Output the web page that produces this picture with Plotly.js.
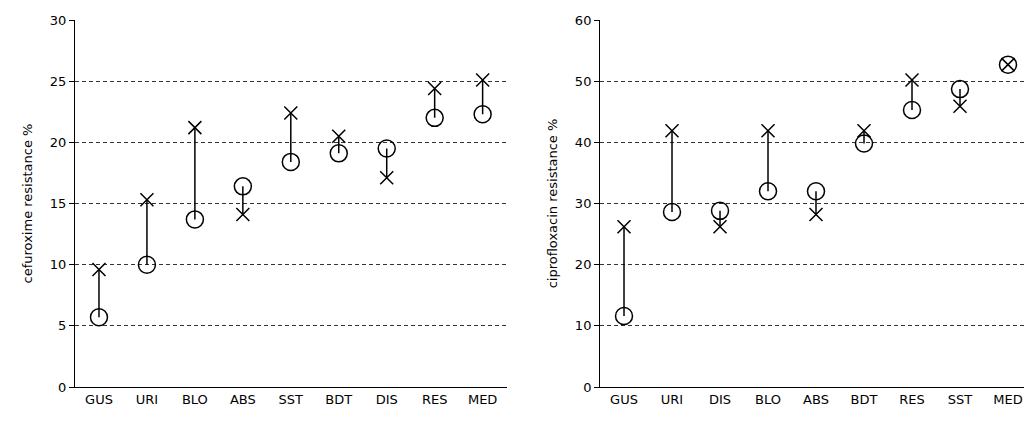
<!DOCTYPE html>
<html>
<head>
<meta charset="utf-8">
<script src="https://cdn.plot.ly/plotly-3.0.0.min.js"></script>
<style>
  body { margin: 0; overflow: hidden; background: #fff; }
  #chart { width: 1050px; height: 421px; }
</style>
</head>
<body>
<div id="chart"></div>
<script>
    // Left panel: cefuroxime
    const cefCategories = ['GUS', 'URI', 'BLO', 'ABS', 'SST', 'BDT', 'DIS', 'RES', 'MED'];
    const cefCircle = [5.7, 10.0, 13.7, 16.4, 18.4, 19.1, 19.5, 22.0, 22.3];
    const cefCross = [9.6, 15.3, 21.2, 14.1, 22.4, 20.5, 17.1, 24.4, 25.1];

    // Right panel: ciprofloxacin
    const cipCategories = ['GUS', 'URI', 'DIS', 'BLO', 'ABS', 'BDT', 'RES', 'SST', 'MED'];
    const cipCircle = [11.6, 28.6, 28.8, 32.0, 32.0, 39.8, 45.3, 48.7, 52.7];
    const cipCross = [26.2, 41.9, 26.2, 41.9, 28.2, 41.9, 50.2, 45.9, 52.7];

    function buildTraces(cats, circ, cross, xa, ya) {
        const lx = [], ly = [];
        cats.forEach((c, i) => {
            lx.push(c, c, null);
            ly.push(circ[i], cross[i], null);
        });
        return [
            { x: lx, y: ly, xaxis: xa, yaxis: ya, mode: 'lines', type: 'scatter',
              line: { color: '#000', width: 1.5 }, hoverinfo: 'skip' },
            { x: cats, y: circ, xaxis: xa, yaxis: ya, mode: 'markers', type: 'scatter',
              marker: { symbol: 'circle-open', size: 17, color: '#000', line: { width: 1.5, color: '#000' } } },
            { x: cats, y: cross, xaxis: xa, yaxis: ya, mode: 'markers', type: 'scatter',
              marker: { symbol: 'x-thin-open', size: 13, color: '#000', line: { width: 1.5, color: '#000' } } }
        ];
    }

    const data = [].concat(
        buildTraces(cefCategories, cefCircle, cefCross, 'x', 'y'),
        buildTraces(cipCategories, cipCircle, cipCross, 'x2', 'y2')
    );

    const font = { family: 'DejaVu Sans, Liberation Sans, sans-serif', size: 13, color: '#000' };
    const xBase = {
        type: 'category', range: [-0.5, 8.5], showgrid: false, showline: true,
        linecolor: '#000', linewidth: 1, ticks: '', tickfont: font, fixedrange: true
    };
    const yBase = {
        showgrid: true, gridcolor: '#000', griddash: '4px,3px', gridwidth: 0.8,
        showline: true, linecolor: '#000', linewidth: 1, ticks: 'outside', ticklen: 5,
        tickcolor: '#000', zeroline: false, tickfont: font
    };

    const layout = {
        showlegend: false,
        margin: { l: 75, r: 18, t: 20, b: 34 },
        paper_bgcolor: '#fff',
        plot_bgcolor: '#fff',
        xaxis: Object.assign({}, xBase, { domain: [0, 0.451], anchor: 'y' }),
        yaxis: Object.assign({}, yBase, {
            range: [0, 30], dtick: 5, anchor: 'x',
            title: { text: 'cefuroxime resistance %', font: font, standoff: 14 }
        }),
        xaxis2: Object.assign({}, xBase, { domain: [0.5486, 1], anchor: 'y2' }),
        yaxis2: Object.assign({}, yBase, {
            range: [0, 60], dtick: 10, anchor: 'x2',
            title: { text: 'ciprofloxacin resistance %', font: font, standoff: 14 }
        })
    };

    Plotly.newPlot('chart', data, layout, { displayModeBar: false, staticPlot: true });
</script>
</body>
</html>
